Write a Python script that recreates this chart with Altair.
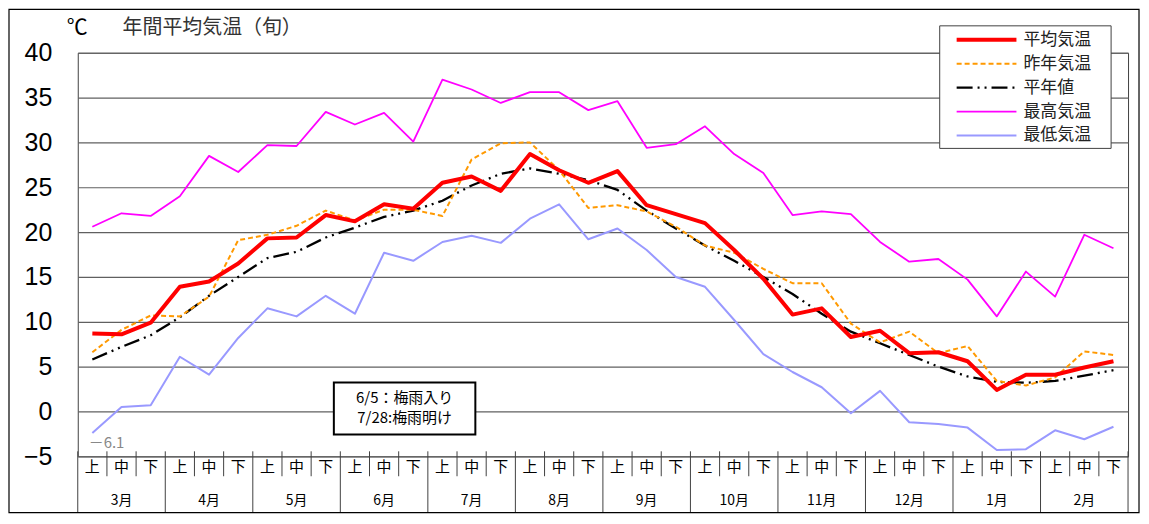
import altair as alt
import pandas as pd

# ---- data -------------------------------------------------------------
months = ["3月", "4月", "5月", "6月", "7月", "8月", "9月", "10月", "11月", "12月", "1月", "2月"]
dekads = ["上", "中", "下"]
series_names = ["平均気温", "昨年気温", "平年値", "最高気温", "最低気温"]

avg = [8.7, 8.6, 9.9, 13.9, 14.5, 16.5, 19.3, 19.4, 21.9, 21.2, 23.1, 22.6,
       25.5, 26.2, 24.6, 28.7, 26.9, 25.5, 26.8, 23.0, 22.0, 21.0, 18.0, 14.8,
       10.8, 11.5, 8.3, 9.0, 6.5, 6.6, 5.6, 2.4, 4.1, 4.1, 4.9, 5.6]
last_year = [6.6, 9.1, 10.7, 10.6, 12.8, 19.1, 19.7, 20.7, 22.4, 21.3, 22.5, 22.5,
             21.8, 28.1, 29.9, 30.0, 26.9, 22.7, 23.0, 22.3, 20.6, 18.5, 17.7, 15.9,
             14.3, 14.3, 9.8, 7.7, 8.9, 6.5, 7.3, 3.4, 2.9, 3.8, 6.7, 6.3]
normal = [5.8, 7.2, 8.5, 10.5, 12.9, 15.0, 17.1, 17.8, 19.4, 20.5, 21.7, 22.4,
          23.5, 25.2, 26.5, 27.1, 26.5, 25.8, 24.7, 22.4, 20.4, 18.5, 16.8, 15.0,
          13.1, 10.9, 8.9, 7.6, 6.3, 5.0, 3.9, 3.3, 3.2, 3.4, 4.0, 4.6]
tmax = [20.6, 22.1, 21.8, 24.0, 28.5, 26.7, 29.7, 29.6, 33.4, 32.0, 33.3, 30.1,
        37.0, 35.9, 34.4, 35.6, 35.6, 33.6, 34.6, 29.4, 29.8, 31.8, 28.7, 26.6,
        21.9, 22.3, 22.0, 18.9, 16.7, 17.0, 14.7, 10.6, 15.6, 12.8, 19.7, 18.2]
tmin = [-2.4, 0.5, 0.7, 6.1, 4.1, 8.2, 11.5, 10.6, 12.9, 10.9, 17.7, 16.8,
        18.9, 19.6, 18.8, 21.5, 23.1, 19.2, 20.4, 18.0, 15.0, 13.9, 10.2, 6.4,
        4.4, 2.7, -0.2, 2.3, -1.2, -1.4, -1.8, -4.3, -4.2, -2.1, -3.1, -1.7]
y_ticks = [-5, 0, 5, 10, 15, 20, 25, 30, 35, 40]

title_unit = "℃"
title_text = "年間平均気温（旬）"
note_lines = ["6/5：梅雨入り", "7/28:梅雨明け"]
min_note = "－6.1"

series_values = dict(zip(series_names, [avg, last_year, normal, tmax, tmin]))

# ---- tables built from the lists ---------------------------------------
rows = []
for name, vals in series_values.items():
    for i, v in enumerate(vals):
        rows.append({"series": name, "pos": i + 0.5, "temp": v})
df = pd.DataFrame(rows)

n = len(months) * len(dekads)
dek_df = pd.DataFrame({"label": dekads * len(months), "pos": [i + 0.5 for i in range(n)]})
mon_df = pd.DataFrame({"label": months, "pos": [3 * m + 1.5 for m in range(len(months))]})
sep_df = pd.DataFrame({"b": list(range(n + 1))})
sep_df["month"] = sep_df["b"] % 3 == 0
one = pd.DataFrame({"k": [0]})

# ---- layout / style ----------------------------------------------------
W, H = 1054, 405
xs = alt.Scale(domain=[0, n], nice=False, zero=False)
ys = alt.Scale(domain=[-5, 40], nice=False, zero=False)
JP = "Noto Sans CJK JP"

y_axis = alt.Axis(values=y_ticks, grid=True, gridColor="#606060", gridWidth=1.2,
                  ticks=False, domain=False, labelPadding=26,
                  labelFont="Liberation Sans", labelFontSize=25,
                  labelColor="#000000", title=None)

styles = {
    "平均気温": dict(color="#FF0000", strokeWidth=4),
    "昨年気温": dict(color="#FF9900", strokeWidth=2, strokeDash=[5, 3]),
    "平年値": dict(color="#000000", strokeWidth=2.3, strokeDash=[16, 5, 2, 5, 2, 5]),
    "最高気温": dict(color="#FF00FF", strokeWidth=1.8),
    "最低気温": dict(color="#9999FF", strokeWidth=2),
}

layers = []

# lines, red drawn last
for name in ["最低気温", "最高気温", "平年値", "昨年気温", "平均気温"]:
    st = styles[name]
    layers.append(
        alt.Chart(df).transform_filter(alt.datum.series == name)
        .mark_line(strokeJoin="round", **st)
        .encode(x=alt.X("pos:Q", scale=xs, axis=None),
                y=alt.Y("temp:Q", scale=ys, axis=y_axis))
    )

# bottom table: separators and labels
layers.append(
    alt.Chart(sep_df).transform_filter("!datum.month").mark_rule(color="#404040", strokeWidth=1)
    .encode(x=alt.X("b:Q", scale=xs, axis=None), y=alt.value(400), y2=alt.value(425))
)
layers.append(
    alt.Chart(sep_df).transform_filter("datum.month").mark_rule(color="#404040", strokeWidth=1)
    .encode(x=alt.X("b:Q", scale=xs, axis=None), y=alt.value(400), y2=alt.value(461))
)
layers.append(
    alt.Chart(dek_df).mark_text(font=JP, fontSize=15, color="#000000", baseline="middle")
    .encode(x=alt.X("pos:Q", scale=xs, axis=None), y=alt.value(416), text="label:N")
)
layers.append(
    alt.Chart(mon_df).mark_text(font=JP, fontSize=14, color="#000000", baseline="middle")
    .encode(x=alt.X("pos:Q", scale=xs, axis=None), y=alt.value(450), text="label:N")
)

# -6.1 note
layers.append(
    alt.Chart(one).mark_text(font=JP, fontSize=15, color="#888888", align="left", baseline="middle")
    .encode(x=alt.value(11), y=alt.value(392), text=alt.value(min_note))
)

# titles
layers.append(
    alt.Chart(one).mark_text(font=JP, fontSize=21, color="#000000", align="left", baseline="middle")
    .encode(x=alt.value(-11), y=alt.value(-25), text=alt.value(title_unit))
)
layers.append(
    alt.Chart(one).mark_text(font=JP, fontSize=20, color="#333333", align="left", baseline="middle")
    .encode(x=alt.value(45), y=alt.value(-25), text=alt.value(title_text))
)

# annotation box
layers.append(
    alt.Chart(one).mark_rect(fill="#FFFFFF", stroke="#000000", strokeWidth=2)
    .encode(x=alt.value(257), x2=alt.value(399), y=alt.value(331), y2=alt.value(383))
)
for k, line in enumerate(note_lines):
    layers.append(
        alt.Chart(one).mark_text(font=JP, fontSize=15, color="#000000", align="center", baseline="middle")
        .encode(x=alt.value(328), y=alt.value(346 + 21 * k), text=alt.value(line))
    )

# legend
layers.append(
    alt.Chart(one).mark_rect(fill="#FFFFFF", stroke="#404040", strokeWidth=1)
    .encode(x=alt.value(865), x2=alt.value(1037), y=alt.value(-27), y2=alt.value(96))
)
for k, name in enumerate(series_names):
    st = dict(styles[name])
    yy = -13 + 24 * k
    layers.append(
        alt.Chart(one).mark_rule(strokeCap="butt", **st)
        .encode(x=alt.value(882), x2=alt.value(942), y=alt.value(yy))
    )
    layers.append(
        alt.Chart(one).mark_text(font=JP, fontSize=17, color="#222222", align="left", baseline="middle")
        .encode(x=alt.value(949), y=alt.value(yy), text=alt.value(name))
    )

# outer frame
layers.append(
    alt.Chart(one).mark_rect(fill=None, stroke="#000000", strokeWidth=1.2)
    .encode(x=alt.value(-69), x2=alt.value(1065), y=alt.value(-43.5), y2=alt.value(461.5))
)

chart = alt.layer(*layers).properties(
    width=W, height=H,
    autosize=alt.AutoSizeParams(type="none"),
    padding={"left": 70, "top": 44, "right": 13, "bottom": 57},
    background="#FFFFFF",
).configure_view(stroke="#404040", strokeWidth=1)

chart.save("out.html", embed_options={"renderer": "svg", "actions": False})
